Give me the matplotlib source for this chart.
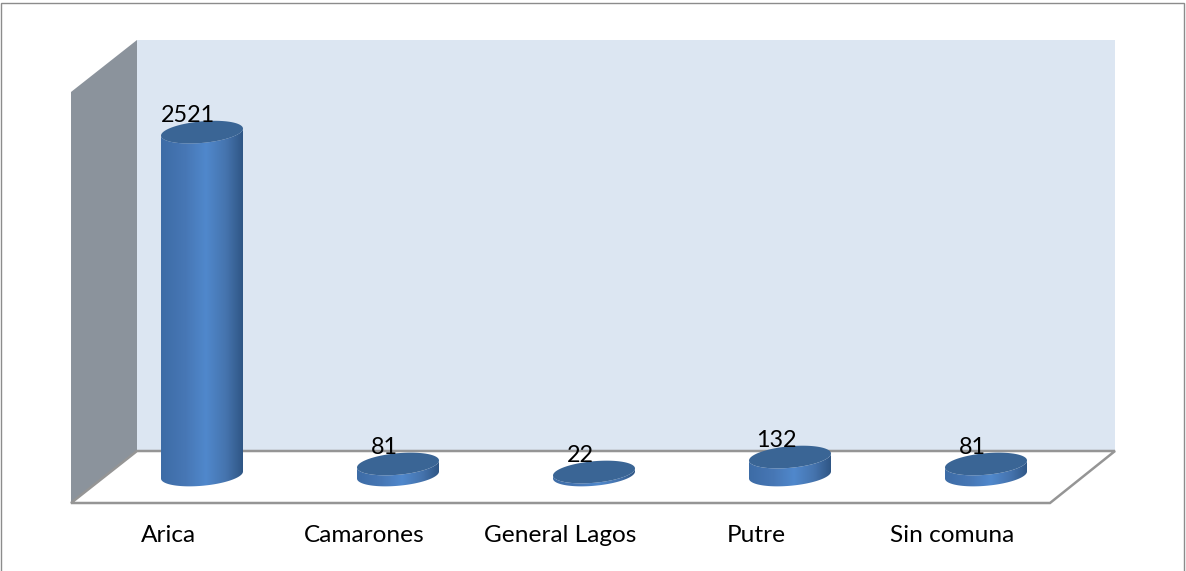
import numpy as np
import matplotlib
matplotlib.use("Agg")
import matplotlib.pyplot as plt
from matplotlib.colors import LinearSegmentedColormap
from matplotlib.patches import Polygon, PathPatch
from matplotlib.path import Path

categories = ["Arica", "Camarones", "General Lagos", "Putre", "Sin comuna"]
values = [2521, 81, 22, 132, 81]

W, H = 1186, 571
BAR_X0 = 202      # px of first bar
BAR_STEP = 196    # px between bars
BASE_Y = 475      # px of value 0
PX_PER_UNIT = 0.136

BAR_HALF_W = 41 / BAR_STEP
ELL_HALF_H = 10.8 / PX_PER_UNIT
ELL_SHEAR = 3.5 / PX_PER_UNIT   # right side of the ellipse sits higher

fig = plt.figure(figsize=(W / 100, H / 100), dpi=100)
fig.patch.set_facecolor("white")

# walls and floor, in pixels
bg = fig.add_axes([0, 0, 1, 1])
bg.set_xlim(0, W)
bg.set_ylim(H, 0)
bg.axis("off")
bg.add_patch(Polygon([(1, 3), (1184, 3), (1184, 575), (1, 575)], closed=True, fc="white", ec="#8c8c8c", lw=1))
bg.add_patch(Polygon([(137, 40), (1115, 40), (1115, 451), (137, 451)], closed=True, fc="#dce6f2", ec="none"))
bg.add_patch(Polygon([(71, 92), (137, 40), (137, 451), (71, 503)], closed=True, fc="#8b939c", ec="none"))
bg.add_patch(Polygon([(71, 503), (137, 451), (1115, 451), (1050, 503)], closed=True, fc="white", ec="#959595", lw=1.8))

# bars, in category / value units
ax = fig.add_axes([0, 0, 1, 1])
ax.axis("off")
ax.patch.set_alpha(0)

side_cmap = LinearSegmentedColormap.from_list(
    "side",
    [(0, "#3d6ca6"), (0.3, "#4777b5"), (0.55, "#5088cc"), (0.8, "#4573ad"), (1, "#2f5685")],
)


def ellipse(xc, yc, t):
    return xc + BAR_HALF_W * np.cos(t), yc + ELL_HALF_H * np.sin(t) + ELL_SHEAR * np.cos(t)


t_all = np.linspace(0, 2 * np.pi, 120)
t_low = np.linspace(np.pi, 2 * np.pi, 60)
t_up = t_low[::-1]
grad = np.linspace(0, 1, 256).reshape(1, -1)

for i, (name, val) in enumerate(zip(categories, values)):
    # body = lower half of base + lower half of top reversed, closed round the sides
    bx, by = ellipse(i, 0, t_low)
    tx, ty = ellipse(i, val, t_up)
    verts = np.vstack([np.column_stack([bx, by]), np.column_stack([tx, ty]), [[bx[0], by[0]]]])
    body = PathPatch(Path(verts), fc="none", ec="none", transform=ax.transData)
    ax.add_patch(body)
    img = ax.imshow(
        grad,
        cmap=side_cmap,
        aspect="auto",
        extent=[i - BAR_HALF_W, i + BAR_HALF_W, by.min() - ELL_HALF_H, val + 2 * ELL_HALF_H],
        zorder=2,
    )
    img.set_clip_path(body)

    ex, ey = ellipse(i, val, t_all)
    ax.fill(ex, ey, fc="#3a6595", ec="none", zorder=3)

    ax.text(i - 14 / BAR_STEP, val + 16.5 / PX_PER_UNIT, str(val), ha="center", va="center",
            family="Lato", fontsize=16.8, color="black", zorder=4)
    ax.text(i - 34 / BAR_STEP, -61 / PX_PER_UNIT, name, ha="center", va="center",
            family="Lato", fontsize=17.6, color="black", zorder=4)

# imshow resets limits
ax.set_xlim(-BAR_X0 / BAR_STEP, (W - BAR_X0) / BAR_STEP)
ax.set_ylim(-(H - BASE_Y) / PX_PER_UNIT, BASE_Y / PX_PER_UNIT)

fig.savefig("out.png", dpi=100)
